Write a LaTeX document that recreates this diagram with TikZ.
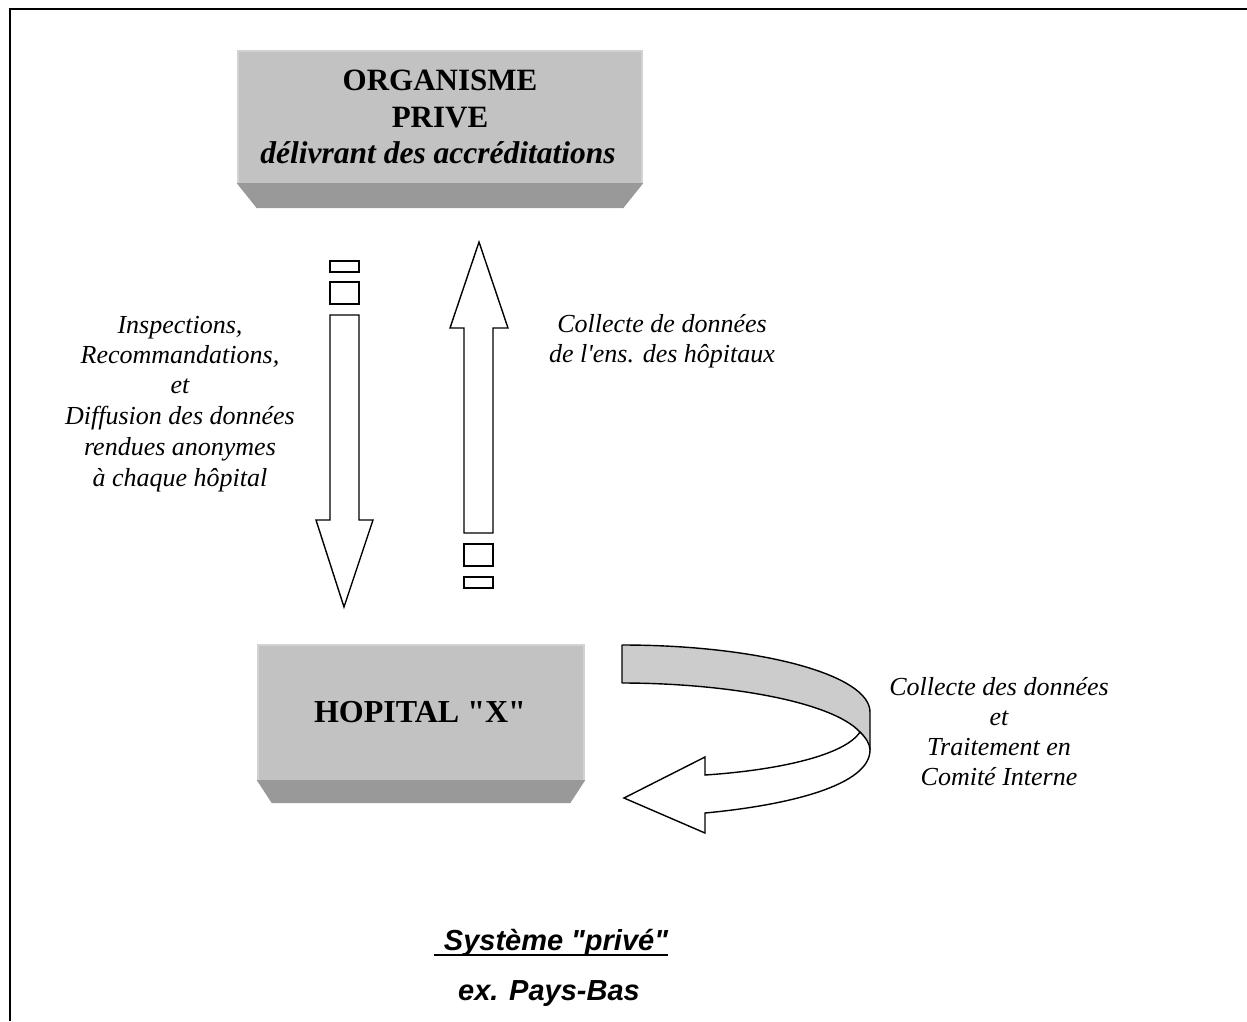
\documentclass[tikz,border=0pt]{standalone}
\usepackage{fontspec}
\setmainfont{Liberation Serif}
\setsansfont{Liberation Sans}
\definecolor{boxlight}{HTML}{C2C2C2}
\definecolor{boxedge}{HTML}{D2D2D2}
\definecolor{boxdark}{HTML}{999999}
\definecolor{ribbon}{HTML}{CCCCCC}
\tikzset{
  boxface/.style={rectangle, fill=boxlight, inner sep=0pt},
  bevel/.style={fill=boxdark},
  boxtitle/.style={inner sep=0pt, anchor=base, font=\fontsize{31}{36}\selectfont\bfseries},
  hoptitle/.style={inner sep=0pt, anchor=base, font=\fontsize{32}{36}\selectfont\bfseries},
  boxsub/.style={inner sep=0pt, anchor=base, font=\fontsize{31.5}{36}\selectfont\bfseries\itshape},
  lab/.style={inner sep=0pt, anchor=base, font=\fontsize{26}{30}\selectfont\itshape},
  foot/.style={inner sep=0pt, anchor=base, font=\fontsize{29}{34}\selectfont\sffamily\bfseries\itshape},
  blockarrow/.style={draw=black, fill=white, line width=1.4pt, line join=miter},
}
\begin{document}
\begin{tikzpicture}[x=1pt,y=-1pt]
\useasboundingbox (0,0) rectangle (1247,1021);
\fill[white] (0,0) rectangle (1247,1021);
% frame
\draw[line width=2.5pt] (10,1021) -- (10,9) -- (1247,9);

% top box
\node[boxface, minimum width=406pt, minimum height=133pt] (org) at (440,116.5) {};
\draw[boxedge, line width=2pt] ([xshift=1pt]org.south west) -- ([xshift=1pt,yshift=-1pt]org.north west) -- ([xshift=-1pt,yshift=-1pt]org.north east) -- ([xshift=-1pt]org.south east);
\fill[bevel] (org.south west) -- (org.south east) -- ++(-20,25) -- ([xshift=20pt,yshift=-25pt]org.south west) -- cycle;
\node[boxtitle] (orgt1) at (440,90) {ORGANISME};
\node[boxtitle] (orgt2) at (440,127) {PRIVE};
\node[boxsub] (orgt3) at (438,163) {délivrant des accréditations};

% hospital box
\node[boxface, minimum width=328pt, minimum height=136pt] (hop) at (421,712) {};
\draw[boxedge, line width=2pt] ([xshift=1pt]hop.south west) -- ([xshift=1pt,yshift=-1pt]hop.north west) -- ([xshift=-1pt,yshift=-1pt]hop.north east) -- ([xshift=-1pt]hop.south east);
\fill[bevel] (hop.south west) -- (hop.south east) -- ++(-15,23) -- ([xshift=15pt,yshift=-23pt]hop.south west) -- cycle;
\node[hoptitle] (hopt) at (420,722) {HOPITAL \textquotedbl X\textquotedbl};

% down arrow
\draw[blockarrow] (330,261) rectangle (359,272);
\draw[blockarrow] (330,282) rectangle (359,304);
\draw[blockarrow] (330,315) -- (359,315) -- (359,520) -- (373,520) -- (344,607) -- (316,520) -- (330,520) -- cycle;

% up arrow
\draw[blockarrow] (464,533) -- (464,328) -- (450,328) -- (479,242) -- (508,328) -- (493,328) -- (493,533) -- cycle;
\draw[blockarrow] (464,544) rectangle (493,566);
\draw[blockarrow] (464,577) rectangle (493,588);

% curved ribbon arrow
\draw[fill=ribbon, line width=1.4pt, line join=round]
  (622,645) .. controls (760,645) and (870,675) .. (870,712)
  -- (870,750) .. controls (868,743) and (865,737) .. (860,732)
  .. controls (830,700) and (720,683) .. (622,683) -- cycle;
\draw[fill=white, line width=1.4pt, line join=miter]
  (860,732) .. controls (866,738) and (870,744) .. (870,750)
  .. controls (870,785) and (790,805) .. (705,813)
  -- (705,833) -- (624,798) -- (705,757) -- (705,775)
  .. controls (780,770) and (845,755) .. (860,732) -- cycle;

% left label
\node[lab] (la1) at (180,333) {Inspections,};
\node[lab] (la2) at (180,363) {Recommandations,};
\node[lab] (la3) at (180,393) {et};
\node[lab] (la4) at (180,424) {Diffusion des données};
\node[lab] (la5) at (180,455) {rendues anonymes};
\node[lab] (la6) at (180,486) {à chaque hôpital};

% right top label
\node[lab] (ra1) at (662,332) {Collecte de données};
\node[lab] (ra2) at (662,362) {de l\textquotesingle ens. des hôpitaux};

% right bottom label
\node[lab] (rb1) at (999,695) {Collecte des données};
\node[lab] (rb2) at (999,725) {et};
\node[lab] (rb3) at (999,755) {Traitement en};
\node[lab] (rb4) at (999,785) {Comité Interne};

% footer
\node[foot] (sys) at (556,950) {Système \textquotedbl privé\textquotedbl};
\draw[line width=2pt] ([xshift=-10pt,yshift=-5pt]sys.base west) -- ([yshift=-5pt]sys.base east);
\node[foot] (pays) at (549,1000) {ex. Pays-Bas};
\end{tikzpicture}
\end{document}
